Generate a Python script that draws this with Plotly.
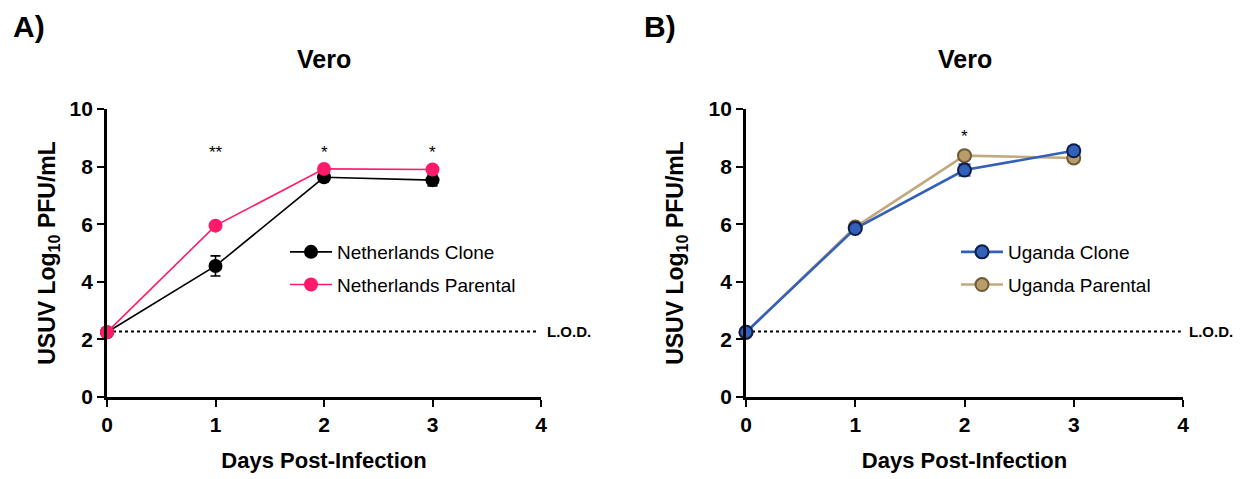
import plotly.graph_objects as go

W, H = 1241, 479

days = [0, 1, 2, 3]
lod = 2.27

# Panel A (Netherlands)
nl_clone = [2.25, 4.55, 7.63, 7.53]
nl_clone_err = [0.05, 0.35, 0.1, 0.2]
nl_parental = [2.25, 5.95, 7.92, 7.9]
nl_parental_err = [0.05, 0.05, 0.05, 0.05]
sig_a_days = [1, 2, 3]
sig_a_labels = ["**", "*", "*"]
sig_a_y = [8.5, 8.5, 8.5]

# Panel B (Uganda)
ug_clone = [2.25, 5.85, 7.88, 8.55]
ug_clone_err = [0.05, 0.08, 0.2, 0.15]
ug_parental = [2.25, 5.9, 8.38, 8.3]
ug_parental_err = [0.05, 0.05, 0.08, 0.15]
sig_b_days = [2]
sig_b_labels = ["*"]
sig_b_y = [9.05]

x_ticks = [0, 1, 2, 3, 4]
y_ticks = [0, 2, 4, 6, 8, 10]

FONT = "Liberation Sans"
PINK = "#FF1A6C"
BLUE = "#3360B8"
BLUE_EDGE = "#0E1D4A"
TAN = "#B89C6A"
TAN_EDGE = "#6E5A34"
TAN_LINE = "#C2A97E"

fig = go.Figure()

def px(x):
    return x / W

def py(y):
    return 1 - y / H

# Panel A traces
fig.add_trace(go.Scatter(
    x=days, y=nl_clone, name="Netherlands Clone", mode="lines+markers",
    line=dict(color="black", width=1.6),
    marker=dict(color="black", size=14),
    error_y=dict(type="data", array=nl_clone_err, color="black", thickness=1.6, width=5),
    xaxis="x", yaxis="y", legend="legend", cliponaxis=False, legendgroup="a1"))
fig.add_trace(go.Scatter(
    x=days, y=nl_parental, name="Netherlands Parental", mode="lines+markers",
    line=dict(color=PINK, width=1.6),
    marker=dict(color=PINK, size=14),
    error_y=dict(type="data", array=nl_parental_err, color=PINK, thickness=1.6, width=5),
    xaxis="x", yaxis="y", legend="legend", cliponaxis=False, legendgroup="a2"))

# Panel B traces (parental drawn first so clone sits on top)
fig.add_trace(go.Scatter(
    x=days, y=ug_parental, name="Uganda Parental", mode="lines+markers",
    line=dict(color=TAN_LINE, width=2.6),
    marker=dict(color=TAN, size=13, line=dict(color=TAN_EDGE, width=2)),
    error_y=dict(type="data", array=ug_parental_err, color=TAN_LINE, thickness=2, width=6),
    xaxis="x2", yaxis="y2", legend="legend2", cliponaxis=False, legendgroup="b2",
    legendrank=2))
fig.add_trace(go.Scatter(
    x=days, y=ug_clone, name="Uganda Clone", mode="lines+markers",
    line=dict(color=BLUE, width=2.6),
    marker=dict(color=BLUE, size=13, line=dict(color=BLUE_EDGE, width=2)),
    error_y=dict(type="data", array=ug_clone_err, color=BLUE, thickness=2, width=6),
    xaxis="x2", yaxis="y2", legend="legend2", cliponaxis=False, legendgroup="b1",
    legendrank=1))

# LOD lines
for xa, ya in (("x", "y"), ("x2", "y2")):
    fig.add_shape(type="line", xref=xa, yref=ya, x0=0, x1=3.98, y0=lod, y1=lod,
                  line=dict(color="black", width=2, dash="dot"), layer="below")
    fig.add_annotation(xref=xa + " domain", yref=ya, x=1.01, y=lod, text="<b>L.O.D.</b>",
                       showarrow=False, xanchor="left", yanchor="middle",
                       font=dict(family=FONT, size=15, color="black"))

# significance
for d, lab, yv in zip(sig_a_days, sig_a_labels, sig_a_y):
    fig.add_annotation(xref="x", yref="y", x=d, y=yv, text=lab, showarrow=False,
                       font=dict(family=FONT, size=17, color="black"))
for d, lab, yv in zip(sig_b_days, sig_b_labels, sig_b_y):
    fig.add_annotation(xref="x2", yref="y2", x=d, y=yv, text=lab, showarrow=False,
                       font=dict(family=FONT, size=17, color="black"))

# panel labels & titles
fig.add_annotation(xref="paper", yref="paper", x=px(11), y=py(26), text="<b>A)</b>",
                   showarrow=False, xanchor="left", yanchor="middle",
                   font=dict(family=FONT, size=30, color="black"))
fig.add_annotation(xref="paper", yref="paper", x=px(642), y=py(26), text="<b>B)</b>",
                   showarrow=False, xanchor="left", yanchor="middle",
                   font=dict(family=FONT, size=30, color="black"))
fig.add_annotation(xref="x domain", yref="paper", x=0.5, y=py(59), text="<b>Vero</b>",
                   showarrow=False, yanchor="middle",
                   font=dict(family=FONT, size=25, color="black"))
fig.add_annotation(xref="x2 domain", yref="paper", x=0.5, y=py(59), text="<b>Vero</b>",
                   showarrow=False, yanchor="middle",
                   font=dict(family=FONT, size=25, color="black"))

axis_common = dict(
    showline=True, linecolor="black", linewidth=2.8, mirror=False,
    ticks="outside", ticklen=7, tickwidth=2.2, tickcolor="black",
    showgrid=False, zeroline=False, automargin=False,
    tickfont=dict(family=FONT, size=21, color="black", weight="bold"),
)

xtitle = dict(text="<b>Days Post-Infection</b>", font=dict(family=FONT, size=22, color="black"), standoff=18)
ytitle_a = dict(text="<b>USUV Log<sub>10</sub> PFU/mL</b>", font=dict(family=FONT, size=23, color="black"), standoff=8)
ytitle_b = dict(text="<b>USUV Log<sub>10</sub> PFU/mL</b>", font=dict(family=FONT, size=23, color="black"), standoff=19)

ydom = [py(397), py(109)]
leg_common = dict(xanchor="left", yanchor="top",
                  font=dict(family=FONT, size=19, color="black"),
                  bgcolor="rgba(0,0,0,0)", traceorder="grouped", tracegroupgap=5,
                  itemwidth=42)
fig.update_layout(
    width=W, height=H,
    margin=dict(l=0, r=0, t=0, b=0, autoexpand=False),
    paper_bgcolor="white", plot_bgcolor="white",
    xaxis=dict(domain=[px(107), px(541)], range=[0, 4], tickvals=x_ticks, title=xtitle, anchor="y", **axis_common),
    yaxis=dict(domain=ydom, range=[0, 10], tickvals=y_ticks, title=ytitle_a, anchor="x", **axis_common),
    xaxis2=dict(domain=[px(746), px(1183)], range=[0, 4], tickvals=x_ticks, title=xtitle, anchor="y2", **axis_common),
    yaxis2=dict(domain=ydom, range=[0, 10], tickvals=y_ticks, title=ytitle_b, anchor="x2", **axis_common),
    legend=dict(x=px(285), y=py(233), **leg_common),
    legend2=dict(x=px(956), y=py(233), **leg_common),
    showlegend=True,
)

fig.write_html("out.html")
